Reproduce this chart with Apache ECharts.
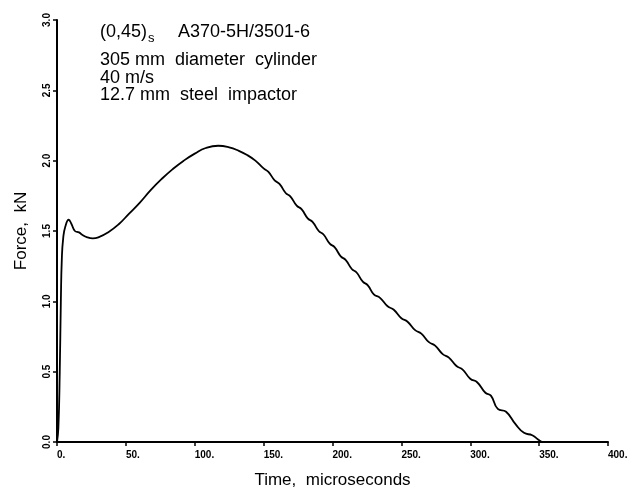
<!DOCTYPE html>
<html>
<head>
<meta charset="utf-8">
<script src="https://cdn.jsdelivr.net/npm/echarts@6/dist/echarts.min.js"></script>
<style>
    html, body { margin: 0; background: #fff; }
    #chart { width: 637px; height: 493px; }
</style>
</head>
<body>
<div id="chart"></div>
<script>
// 冲击力-时间曲线，数据从原图上逐点读出
let timeUs = [0, 1, 2, 2.8, 3.5, 4.5, 6, 8.5, 10.5, 13, 16, 18, 22, 26, 30, 37,
    45, 52, 60, 68, 76, 84, 92, 100, 108, 117, 125, 132, 138, 144,
    150, 153.5, 158, 161.5, 166, 169.5, 174, 177.5, 182, 185.5, 190, 193.5, 198, 201.5,
    206, 209.5, 214, 217.5, 222, 225.5, 230, 234.5, 240, 244.5, 250, 254.5, 260, 264.5,
    270, 274.5, 280, 284.5, 290, 294.5, 300, 305, 311, 315, 320, 326, 333, 339, 345, 349, 352];
let forceKN = [0, 0.1, 0.5, 1.0, 1.3, 1.45, 1.53, 1.58, 1.55, 1.50, 1.49, 1.475, 1.455, 1.448, 1.455, 1.49,
    1.55, 1.62, 1.70, 1.79, 1.87, 1.94, 2.00, 2.05, 2.09, 2.106, 2.095, 2.07, 2.04, 2.00,
    1.945, 1.92, 1.86, 1.835, 1.77, 1.745, 1.68, 1.655, 1.59, 1.565, 1.50, 1.475, 1.41, 1.385,
    1.32, 1.295, 1.23, 1.205, 1.14, 1.115, 1.05, 1.025, 0.965, 0.94, 0.88, 0.855, 0.795, 0.77,
    0.71, 0.685, 0.625, 0.60, 0.54, 0.515, 0.45, 0.425, 0.35, 0.33, 0.235, 0.215, 0.125, 0.065, 0.048, 0.02, 0];

// 图中左上角的说明文字
let noteLines = ['305 mm  diameter  cylinder', '40 m/s', '12.7 mm  steel  impactor'];

let labelFont = 'Liberation Sans, Arial, sans-serif';

let myChart = echarts.init(document.getElementById('chart'));

let curveData = [];
for (let i = 0; i < timeUs.length; i++) {
    curveData.push([timeUs[i], forceKN[i]]);
}

let option = {
    backgroundColor: '#fff',
    animation: false,
    grid: {
        left: 57, right: 29, top: 20, bottom: 51,
        containLabel: false,
        outerBoundsMode: 'none'
    },
    xAxis: {
        type: 'value',
        min: 0, max: 400, interval: 50,
        name: 'Time,  microseconds',
        nameLocation: 'middle',
        nameGap: 30,
        nameTextStyle: { fontFamily: labelFont, fontSize: 17, color: '#000' },
        axisLine: { onZero: false, lineStyle: { color: '#000', width: 2 } },
        axisTick: { show: true, length: 4, lineStyle: { color: '#000', width: 1.5 } },
        axisLabel: {
            formatter: function (v) { return v + '.'; },
            align: 'left',
            margin: 8,
            fontFamily: labelFont, fontSize: 10, fontWeight: 'bold', color: '#000'
        },
        splitLine: { show: false }
    },
    yAxis: {
        type: 'value',
        min: 0, max: 3, interval: 0.5,
        name: 'Force,  kN',
        nameLocation: 'middle',
        nameGap: 27,
        nameTextStyle: { fontFamily: labelFont, fontSize: 17, color: '#000' },
        axisLine: { show: true, lineStyle: { color: '#000', width: 2 } },
        axisTick: { show: true, length: 4, lineStyle: { color: '#000', width: 1.5 } },
        axisLabel: {
            formatter: function (v) { return v.toFixed(1); },
            rotate: 90,
            margin: 5,
            fontFamily: labelFont, fontSize: 10, fontWeight: 'bold', color: '#000'
        },
        splitLine: { show: false }
    },
    graphic: [
        { type: 'text', x: 100, y: 32, style: { text: '(0,45)', font: '18px ' + labelFont, fill: '#000', verticalAlign: 'middle' } },
        { type: 'text', x: 148, y: 38, style: { text: 's', font: '13px ' + labelFont, fill: '#000', verticalAlign: 'middle' } },
        { type: 'text', x: 178, y: 32, style: { text: 'A370-5H/3501-6', font: '18px ' + labelFont, fill: '#000', verticalAlign: 'middle' } },
        { type: 'text', x: 100, y: 60, style: { text: noteLines[0], font: '18px ' + labelFont, fill: '#000', verticalAlign: 'middle' } },
        { type: 'text', x: 100, y: 78, style: { text: noteLines[1], font: '18px ' + labelFont, fill: '#000', verticalAlign: 'middle' } },
        { type: 'text', x: 100, y: 95, style: { text: noteLines[2], font: '18px ' + labelFont, fill: '#000', verticalAlign: 'middle' } }
    ],
    series: [{
        type: 'line',
        data: curveData,
        showSymbol: false,
        smooth: 0.5,
        lineStyle: { color: '#000', width: 1.8 }
    }]
};
myChart.setOption(option);
</script>
</body>
</html>
